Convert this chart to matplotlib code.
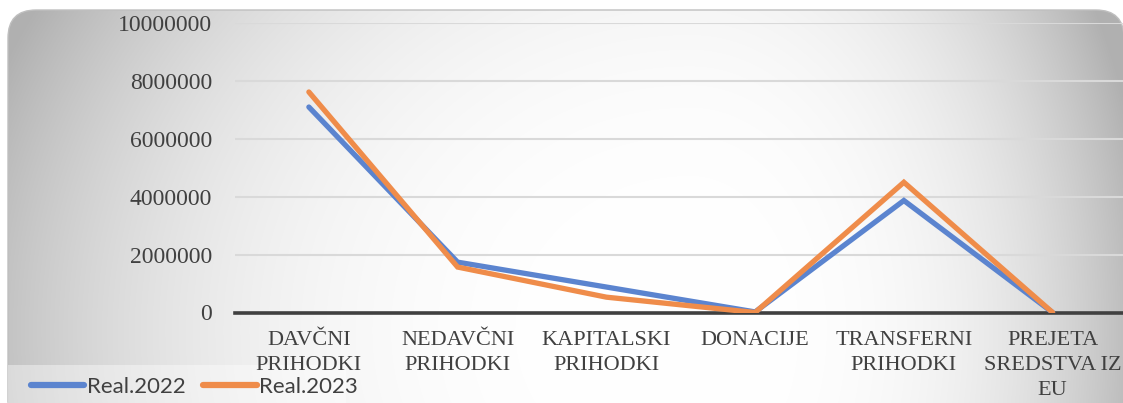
"""Revenue realisation 2022 vs 2023 line chart, Excel-style gradient panel."""

import numpy as np
import matplotlib
matplotlib.use("Agg")
import matplotlib.pyplot as plt
from matplotlib.patches import FancyBboxPatch, Rectangle

CATEGORIES = ["DAVČNI\nPRIHODKI", "NEDAVČNI\nPRIHODKI", "KAPITALSKI\nPRIHODKI",
              "DONACIJE", "TRANSFERNI\nPRIHODKI", "PREJETA\nSREDSTVA IZ\nEU"]
REAL_2022 = [7100000, 1740000, 880000, 20000, 3870000, 0]
REAL_2023 = [7620000, 1570000, 530000, 0, 4500000, 0]
Y_TICKS = [0, 2000000, 4000000, 6000000, 8000000, 10000000]

W, H = 1123, 403
BLUE, ORANGE = "#5b84cf", "#ef8c4a"
TEXT = "#404040"


def gradient(w, h):
    # white core, grey towards the left/right edges (Excel path gradient look)
    xx, yy = np.meshgrid(np.arange(w), np.arange(h))
    cx, cy = 690, 330
    dx = np.where(xx < cx, (cx - xx) / 680.0, (xx - cx) / 420.0)
    dy = np.abs(yy - cy) / 600.0
    r = np.minimum(np.sqrt(dx ** 2 + dy ** 2), 1.1)
    g = 1.0 - 0.23 * r ** 3
    return np.dstack([g, g, g])


fig = plt.figure(figsize=(W / 100, H / 100), dpi=100)
fig.patch.set_facecolor("white")

# background panel in pixel coordinates (y downwards)
bg = fig.add_axes([0, 0, 1, 1], zorder=0)
bg.set_xlim(0, W)
bg.set_ylim(H, 0)
bg.axis("off")
panel = FancyBboxPatch((8, 10), 1116, 420, boxstyle="round,pad=0,rounding_size=28",
                       facecolor="none", edgecolor="#bfbfbf", linewidth=1.0,
                       transform=bg.transData)
bg.add_patch(panel)
img = bg.imshow(gradient(W, H), extent=(0, W, H, 0), aspect="auto", interpolation="bilinear")
img.set_clip_path(panel)
legend_bg = Rectangle((8, 365), 338, 45, facecolor="white", alpha=0.4,
                      edgecolor="none", transform=bg.transData)
bg.add_patch(legend_bg)
legend_bg.set_clip_path(panel)

# main plot area
left, right = 234.5, 1127.0
y0, y10 = 312.5, 23.1
ax = fig.add_axes([left / W, (H - y0) / H, (right - left) / W, (y0 - y10) / H], zorder=1)
ax.patch.set_alpha(0)

x = np.arange(len(CATEGORIES))
ax.plot(x, REAL_2022, color=BLUE, linewidth=3.8, solid_capstyle="round",
        solid_joinstyle="miter", label="Real.2022", zorder=3)
ax.plot(x, REAL_2023, color=ORANGE, linewidth=3.8, solid_capstyle="round",
        solid_joinstyle="miter", label="Real.2023", zorder=4)

ax.set_xlim(-0.5, len(CATEGORIES) - 0.5)
ax.set_ylim(0, 10000000)
ax.set_yticks(Y_TICKS)
ax.set_yticklabels([str(v) for v in Y_TICKS])
ax.set_xticks(x)
ax.set_xticklabels(CATEGORIES, linespacing=1.45)
ax.grid(axis="y", color="#d9d9d9", linewidth=1.5)
ax.set_axisbelow(True)
for side in ("top", "right", "left"):
    ax.spines[side].set_visible(False)
ax.spines["bottom"].set_color("#404040")
ax.spines["bottom"].set_linewidth(2.6)
ax.spines["bottom"].set_zorder(2)
ax.tick_params(axis="both", length=0, colors=TEXT)
ax.tick_params(axis="y", pad=16)
ax.tick_params(axis="x", pad=13)
for lab in ax.get_yticklabels():
    lab.set_fontfamily("Liberation Serif")
    lab.set_fontsize(17)
for lab in ax.get_xticklabels():
    lab.set_fontfamily("Liberation Serif")
    lab.set_fontsize(16)

leg = fig.legend(loc="center left", bbox_to_anchor=(20 / W, (H - 387) / H), ncol=2,
                 frameon=False, borderpad=0, handlelength=2.4, handletextpad=0.1,
                 columnspacing=0.8, prop={"family": "Lato", "size": 16})
for t in leg.get_texts():
    t.set_color(TEXT)
for ln in leg.get_lines():
    ln.set_linewidth(4.5)
    ln.set_solid_capstyle("round")

fig.savefig("out.png", dpi=100)
